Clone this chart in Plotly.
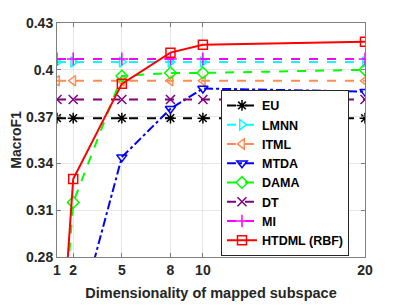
import plotly.graph_objects as go

dims = [1, 2, 5, 8, 10, 20]
EU = [0.369, 0.369, 0.369, 0.369, 0.369, 0.369]
LMNN = [0.405, 0.405, 0.405, 0.405, 0.405, 0.405]
ITML = [0.393, 0.393, 0.393, 0.393, 0.393, 0.393]
MTDA = [0.20, 0.228, 0.344, 0.375, 0.388, 0.386]
DAMA = [0.18, 0.315, 0.396, 0.398, 0.398, 0.400]
DT = [0.381, 0.381, 0.381, 0.381, 0.381, 0.381]
MI = [0.407, 0.407, 0.407, 0.407, 0.407, 0.407]
HTDML = [0.18, 0.330, 0.391, 0.411, 0.416, 0.418]

x_ticks = [1, 2, 5, 8, 10, 20]
y_ticks = [0.28, 0.31, 0.34, 0.37, 0.40, 0.43]
y_tick_text = ["0.28", "0.31", "0.34", "0.37", "0.4", "0.43"]

series = [
    ("EU", EU, "#000000", "dash", "asterisk-open"),
    ("LMNN", LMNN, "#00FFFF", "dash", "triangle-right-open"),
    ("ITML", ITML, "#FF8C50", "dash", "triangle-left-open"),
    ("MTDA", MTDA, "#0000FF", "dashdot", "triangle-down-open"),
    ("DAMA", DAMA, "#00FF00", "dash", "diamond-open"),
    ("DT", DT, "#800080", "dash", "x-thin-open"),
    ("MI", MI, "#FF00FF", "dash", "cross-thin-open"),
    ("HTDML (RBF)", HTDML, "#FF0000", "solid", "square-open"),
]

fig = go.Figure()
for name, vals, color, dash, sym in series:
    fig.add_trace(go.Scatter(
        x=dims, y=vals, name=name, mode="lines+markers",
        line=dict(color=color, width=2, dash=dash),
        marker=dict(symbol=sym, size=9, color=color, line=dict(color=color, width=1.5)),
        cliponaxis=True,
    ))

font_family = "Liberation Sans, Arial, sans-serif"
fig.update_layout(
    width=395, height=297,
    margin=dict(l=49, r=38, t=15, b=48, autoexpand=False),
    paper_bgcolor="white", plot_bgcolor="white",
    font=dict(family=font_family, size=12, color="#262626"),
    showlegend=True,
    legend=dict(
        x=0.948, y=0.005, xanchor="right", yanchor="bottom",
        bgcolor="white", bordercolor="#262626", borderwidth=1,
        font=dict(family=font_family, size=12.5, color="#000000", weight="bold"),
        tracegroupgap=0, itemwidth=30,
    ),
    xaxis=dict(
        range=[1, 20], tickvals=x_ticks, ticktext=[str(t) for t in x_ticks],
        showgrid=True, gridcolor="#E6E6E6", gridwidth=1,
        showline=True, linecolor="#808080", linewidth=1, mirror="ticks",
        ticks="inside", ticklen=4, tickcolor="#808080",
        tickfont=dict(size=14, weight="bold", color="#262626"),
        title=dict(text="Dimensionality of mapped subspace", standoff=11,
                   font=dict(size=14.5, weight="bold", color="#262626")),
        zeroline=False, automargin=False,
    ),
    yaxis=dict(
        range=[0.28, 0.43], tickvals=y_ticks, ticktext=y_tick_text,
        showgrid=True, gridcolor="#E6E6E6", gridwidth=1,
        showline=True, linecolor="#808080", linewidth=1, mirror="ticks",
        ticks="inside", ticklen=4, tickcolor="#808080",
        tickfont=dict(size=14, weight="bold", color="#262626"),
        title=dict(text="MacroF1", standoff=11,
                   font=dict(size=14, weight="bold", color="#262626")),
        zeroline=False, automargin=False,
    ),
)

fig.write_html("out.html")
